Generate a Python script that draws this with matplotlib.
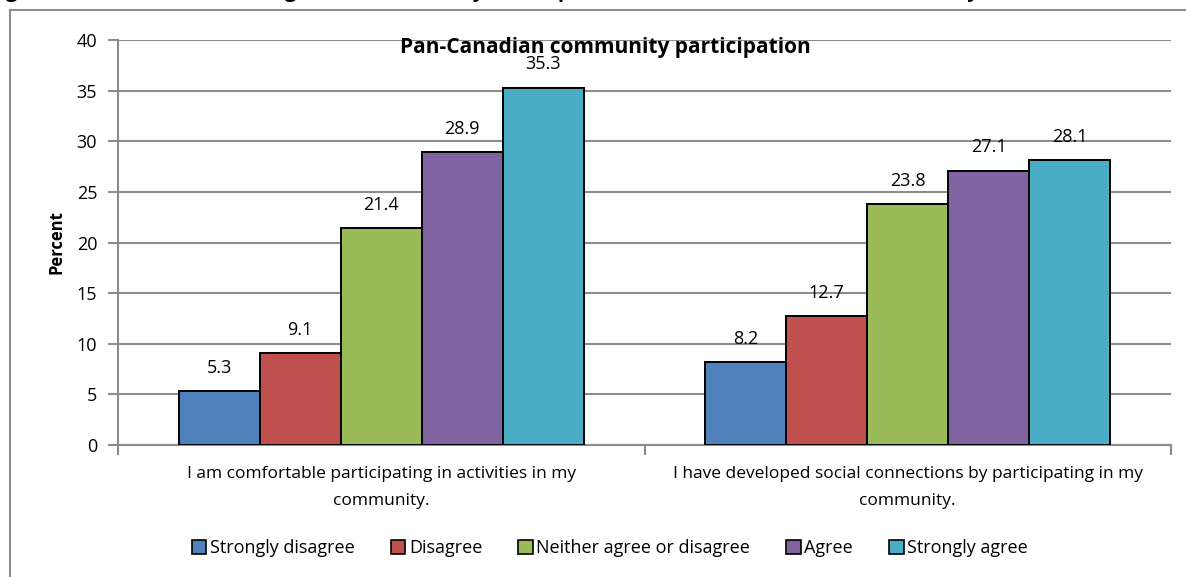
import matplotlib.pyplot as plt
import numpy as np

plt.rcParams['font.family'] = ['Open Sans', 'DejaVu Sans']

# Survey statements and response shares (percent)
STATEMENTS = ['I am comfortable participating in activities in my\ncommunity.',
              'I have developed social connections by participating in my\ncommunity.']
RESPONSES = ['Strongly disagree', 'Disagree', 'Neither agree or disagree', 'Agree', 'Strongly agree']
STRONGLY_DISAGREE = [5.3, 8.2]
DISAGREE = [9.1, 12.7]
NEITHER = [21.4, 23.8]
AGREE = [28.9, 27.1]
STRONGLY_AGREE = [35.3, 28.1]

COLORS = ['#4F81BD', '#C0504D', '#9BBB59', '#8064A2', '#4BACC6']
GRID = '#8c8c8c'


def main():
    series = [STRONGLY_DISAGREE, DISAGREE, NEITHER, AGREE, STRONGLY_AGREE]

    fig = plt.figure(figsize=(11.86, 5.77), dpi=100)
    ax = fig.add_axes([118 / 1186, 1 - 445 / 577, 1053 / 1186, 405 / 577])

    x = np.arange(len(STATEMENTS))
    width = 0.154
    for i, (vals, name, col) in enumerate(zip(series, RESPONSES, COLORS)):
        pos = x + (i - 2) * width
        ax.bar(pos, vals, width, color=col, edgecolor='black', linewidth=1.4,
               label=name, zorder=3)
        for px, v in zip(pos, vals):
            ax.text(px, v + 2.3, f'{v:.1f}', ha='center', va='center', fontsize=13)

    ax.set_xlim(-0.5, 1.5)
    ax.set_ylim(0, 40)
    ax.set_yticks(range(0, 41, 5))
    ax.yaxis.grid(True, color=GRID, linewidth=1.5, zorder=0)
    for s in ['top', 'right']:
        ax.spines[s].set_visible(False)
    for s in ['left', 'bottom']:
        ax.spines[s].set_color(GRID)
        ax.spines[s].set_linewidth(1.5)
    ax.tick_params(axis='y', length=7, width=1.5, color=GRID, labelsize=13, pad=8)

    # category labels centred, tick marks at category boundaries
    ax.set_xticks([-0.5, 0.5, 1.5])
    ax.set_xticklabels([])
    ax.tick_params(axis='x', length=7, width=1.5, color=GRID)
    for xi, lab in zip(x, STATEMENTS):
        ax.text(xi, -2.05, lab, ha='center', va='top', fontsize=12.5,
                linespacing=1.9)

    ax.set_ylabel('Percent', fontsize=12, fontweight='bold', labelpad=8)

    fig.text(605 / 1186, 1 - 48 / 577, 'Pan-Canadian community participation',
             ha='center', va='center', fontsize=15, fontweight='bold')

    # legend under the plot
    handles, labels = ax.get_legend_handles_labels()
    leg = fig.legend(handles, labels, loc='center', bbox_to_anchor=(610 / 1186, 1 - 548 / 577),
                     ncol=5, frameon=False, fontsize=13, handlelength=0.8, handleheight=0.8,
                     handletextpad=0.2, columnspacing=2.0)
    for h in leg.legend_handles:
        h.set_linewidth(1.2)

    # outer frame of the chart
    fig.add_artist(plt.Line2D([10 / 1186, 10 / 1186], [0, 1 - 10 / 577],
                              transform=fig.transFigure, color=GRID, linewidth=1.5))
    fig.add_artist(plt.Line2D([10 / 1186, 1], [1 - 10 / 577, 1 - 10 / 577],
                              transform=fig.transFigure, color=GRID, linewidth=1.5))

    # document caption running off the top edge
    fig.text(-0.01, 1 + 9 / 577, "Figure 2: The Nature of Immigrants' Community Participation, "
             "Pan-Canadian Settlement Survey",
             ha='left', va='center', fontsize=15, fontweight='bold')

    plt.savefig('out.png', dpi=100)


if __name__ == "__main__":
    main()
